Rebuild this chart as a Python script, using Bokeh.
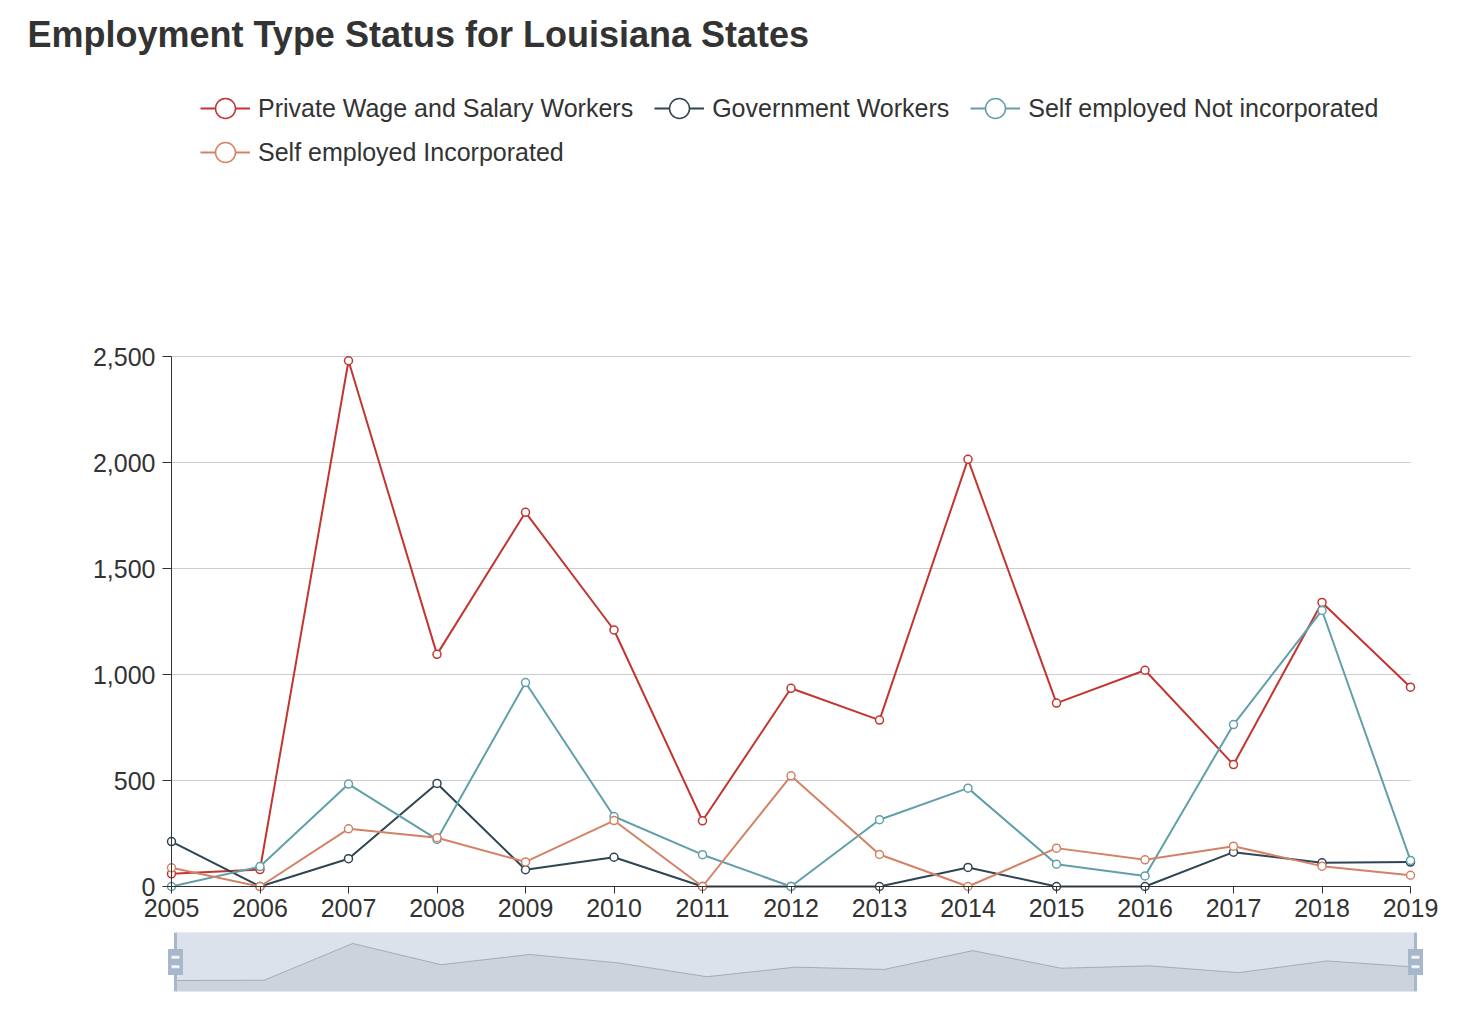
from bokeh.plotting import figure
from bokeh.models import Range1d, Legend, LegendItem, NumeralTickFormatter, Grid, LinearAxis, FixedTicker
from bokeh.layouts import column
from bokeh.embed import file_html
from bokeh.resources import INLINE

# ---------------- data ----------------
years = [2005, 2006, 2007, 2008, 2009, 2010, 2011, 2012, 2013, 2014, 2015, 2016, 2017, 2018, 2019]
private_wage = [60, 80, 2480, 1095, 1765, 1210, 310, 935, 785, 2015, 865, 1020, 575, 1340, 940]
government = [212, 0, 131, 486, 79, 138, 0, 0, 0, 90, 0, 0, 162, 112, 115]
self_not_inc = [0, 94, 483, 222, 962, 330, 150, 0, 315, 464, 105, 50, 764, 1302, 123]
self_inc = [88, 0, 272, 230, 116, 311, 0, 522, 151, 0, 181, 126, 190, 96, 53]
series_names = ["Private Wage and Salary Workers", "Government Workers",
                "Self employed Not incorporated", "Self employed Incorporated"]
y_ticks = [0, 500, 1000, 1500, 2000, 2500]
title_text = "Employment Type Status for Louisiana States"

# ---------------- style / layout ----------------
colors = ["#c23531", "#2f4554", "#61a0a8", "#d48265"]
FONT = "Liberation Sans"
TXT = "#333333"
W = 1478
PLOT_L, PLOT_R, PLOT_T, PLOT_B = 171, 1410, 356, 886   # data area in page pixels
FRAME_L, FRAME_R = 85, 1425                            # shared frame edges
TOP_BORDER = 60
PAD_B = 10
MAIN_H = 932
frame_bottom = PLOT_B + PAD_B
X_TICK_LEN = 7
X_LABEL_GAP = 5

x_per_px = (years[-1] - years[0]) / (PLOT_R - PLOT_L)
y_per_px = y_ticks[-1] / (PLOT_B - PLOT_T)

p = figure(width=W, height=MAIN_H, output_backend="svg", toolbar_location=None,
           x_range=Range1d(years[0] - (PLOT_L - FRAME_L) * x_per_px,
                           years[-1] + (FRAME_R - PLOT_R) * x_per_px),
           y_range=Range1d(y_ticks[0] - PAD_B * y_per_px,
                           y_ticks[-1] + (PLOT_T - TOP_BORDER) * y_per_px),
           min_border_left=FRAME_L, min_border_right=W - FRAME_R,
           min_border_top=TOP_BORDER, min_border_bottom=MAIN_H - frame_bottom)
p.outline_line_color = None
p.background_fill_color = "white"
p.border_fill_color = "white"

# title
p.title.text = title_text
p.title.align = "left"
p.title.offset = 27 - FRAME_L
p.title.standoff = 12
p.title.text_font = FONT
p.title.text_font_size = "36px"
p.title.text_font_style = "bold"
p.title.text_color = TXT

# x axis labels (panel below the frame)
x_label_axis = p.below[0]
x_label_axis.ticker = FixedTicker(ticks=years)
x_label_axis.bounds = (years[0], years[-1])
x_label_axis.formatter = NumeralTickFormatter(format="0")
x_label_axis.axis_line_color = None
x_label_axis.major_tick_line_color = None
x_label_axis.minor_tick_line_color = None
x_label_axis.major_tick_out = 0
x_label_axis.major_tick_in = 0
x_label_axis.major_label_standoff = PLOT_B + X_TICK_LEN + X_LABEL_GAP - frame_bottom
x_label_axis.major_label_text_font = FONT
x_label_axis.major_label_text_font_size = "25px"
x_label_axis.major_label_text_color = TXT

# x axis line + ticks at value 0
x_line_axis = LinearAxis(ticker=FixedTicker(ticks=years), bounds=(years[0], years[-1]),
                         fixed_location=y_ticks[0], major_tick_in=X_TICK_LEN, major_tick_out=0,
                         major_label_text_font_size="0px", major_label_text_alpha=0,
                         major_label_standoff=0,
                         axis_line_color=TXT, axis_line_width=1, major_tick_line_color=TXT,
                         minor_tick_line_color=None)
p.add_layout(x_line_axis, "above")

# y axis at 2005
y_axis = p.left[0]
y_axis.ticker = FixedTicker(ticks=y_ticks)
y_axis.bounds = (y_ticks[0], y_ticks[-1])
y_axis.fixed_location = years[0]
y_axis.formatter = NumeralTickFormatter(format="0,0")
y_axis.major_tick_out = 9
y_axis.major_tick_in = 0
y_axis.major_label_standoff = 7
y_axis.axis_line_color = TXT
y_axis.axis_line_width = 1
y_axis.major_tick_line_color = TXT
y_axis.minor_tick_line_color = None
y_axis.major_label_text_font = FONT
y_axis.major_label_text_font_size = "25px"
y_axis.major_label_text_color = TXT

p.xgrid.visible = False
p.ygrid.grid_line_color = "#cccccc"
p.ygrid.grid_line_width = 1
if "cross_bounds" in Grid.properties():
    p.ygrid.cross_bounds = (years[0], years[-1])

# data series
all_values = [private_wage, government, self_not_inc, self_inc]
items = []
for name, vals, col in zip(series_names, all_values, colors):
    lr = p.line(years, vals, line_color=col, line_width=2)
    sr = p.scatter(years, vals, marker="circle", size=8, line_color=col,
                   line_width=1.5, fill_color="white")
    items.append(LegendItem(label=name, renderers=[lr, sr]))

# legends (two rows like the reference)
LEG_X = 200
GLYPH = 50
ROW1_CY, ROW2_CY = 108, 152


def make_legend(its, cy):
    return Legend(items=its, orientation="horizontal",
                  location=(LEG_X - FRAME_L, frame_bottom - (cy - GLYPH / 2) - GLYPH),
                  glyph_width=GLYPH, glyph_height=GLYPH, label_standoff=8, spacing=21,
                  padding=0, margin=0, border_line_color=None, background_fill_alpha=0,
                  label_text_font=FONT, label_text_font_size="25px", label_text_color=TXT)


p.add_layout(make_legend(items[:3], ROW1_CY))
p.add_layout(make_legend(items[3:], ROW2_CY))

# ---------------- data-zoom slider ----------------
SL_L, SL_R, SL_T, SL_B = 175, 1415, 932, 991
SL_H = 70
SL_INSET = 11
box_h = SL_B - SL_T
sx_per_px = (years[-1] - years[0]) / (SL_R - SL_L)
lo, hi = min(private_wage), max(private_wage)
sy_per_px = (hi - lo) / (box_h - 2 * SL_INSET)
sy0 = lo - SL_INSET * sy_per_px
sy1 = hi + SL_INSET * sy_per_px
mid = (sy0 + sy1) / 2

s = figure(width=W, height=SL_H, output_backend="svg", toolbar_location=None,
           x_range=Range1d(years[0] - (SL_L - FRAME_L) * sx_per_px,
                           years[-1] + (FRAME_R - SL_R) * sx_per_px),
           y_range=Range1d(sy0, sy1),
           x_axis_location=None, y_axis_location=None,
           min_border_left=FRAME_L, min_border_right=W - FRAME_R,
           min_border_top=0, min_border_bottom=SL_H - box_h)
s.outline_line_color = None
s.grid.visible = False

s.quad(left=[years[0]], right=[years[-1]], bottom=[sy0], top=[sy1],
       fill_color="#a7b7cc", fill_alpha=0.4, line_color="#dddddd", line_width=1)
s.varea(x=years, y1=[sy0] * len(years), y2=private_wage, fill_color="#2f4554", fill_alpha=0.09)
s.line(years, private_wage, line_color="#2f4554", line_alpha=0.3, line_width=1)
ends = [years[0], years[-1]]
s.rect(x=ends, y=[mid, mid], width=3, height=box_h, width_units="screen", height_units="screen",
       fill_color="#a7b7cc", line_color=None)
s.rect(x=ends, y=[mid, mid], width=15, height=26, width_units="screen", height_units="screen",
       fill_color="#a7b7cc", line_color=None)
off = 4.7 * (sy1 - sy0) / box_h
s.rect(x=ends * 2, y=[mid + off, mid + off, mid - off, mid - off], width=8, height=3,
       width_units="screen", height_units="screen", fill_color="white", fill_alpha=0.85, line_color=None)

layout = column(p, s, spacing=0)
open("out.html", "w").write(file_html(layout, INLINE))
